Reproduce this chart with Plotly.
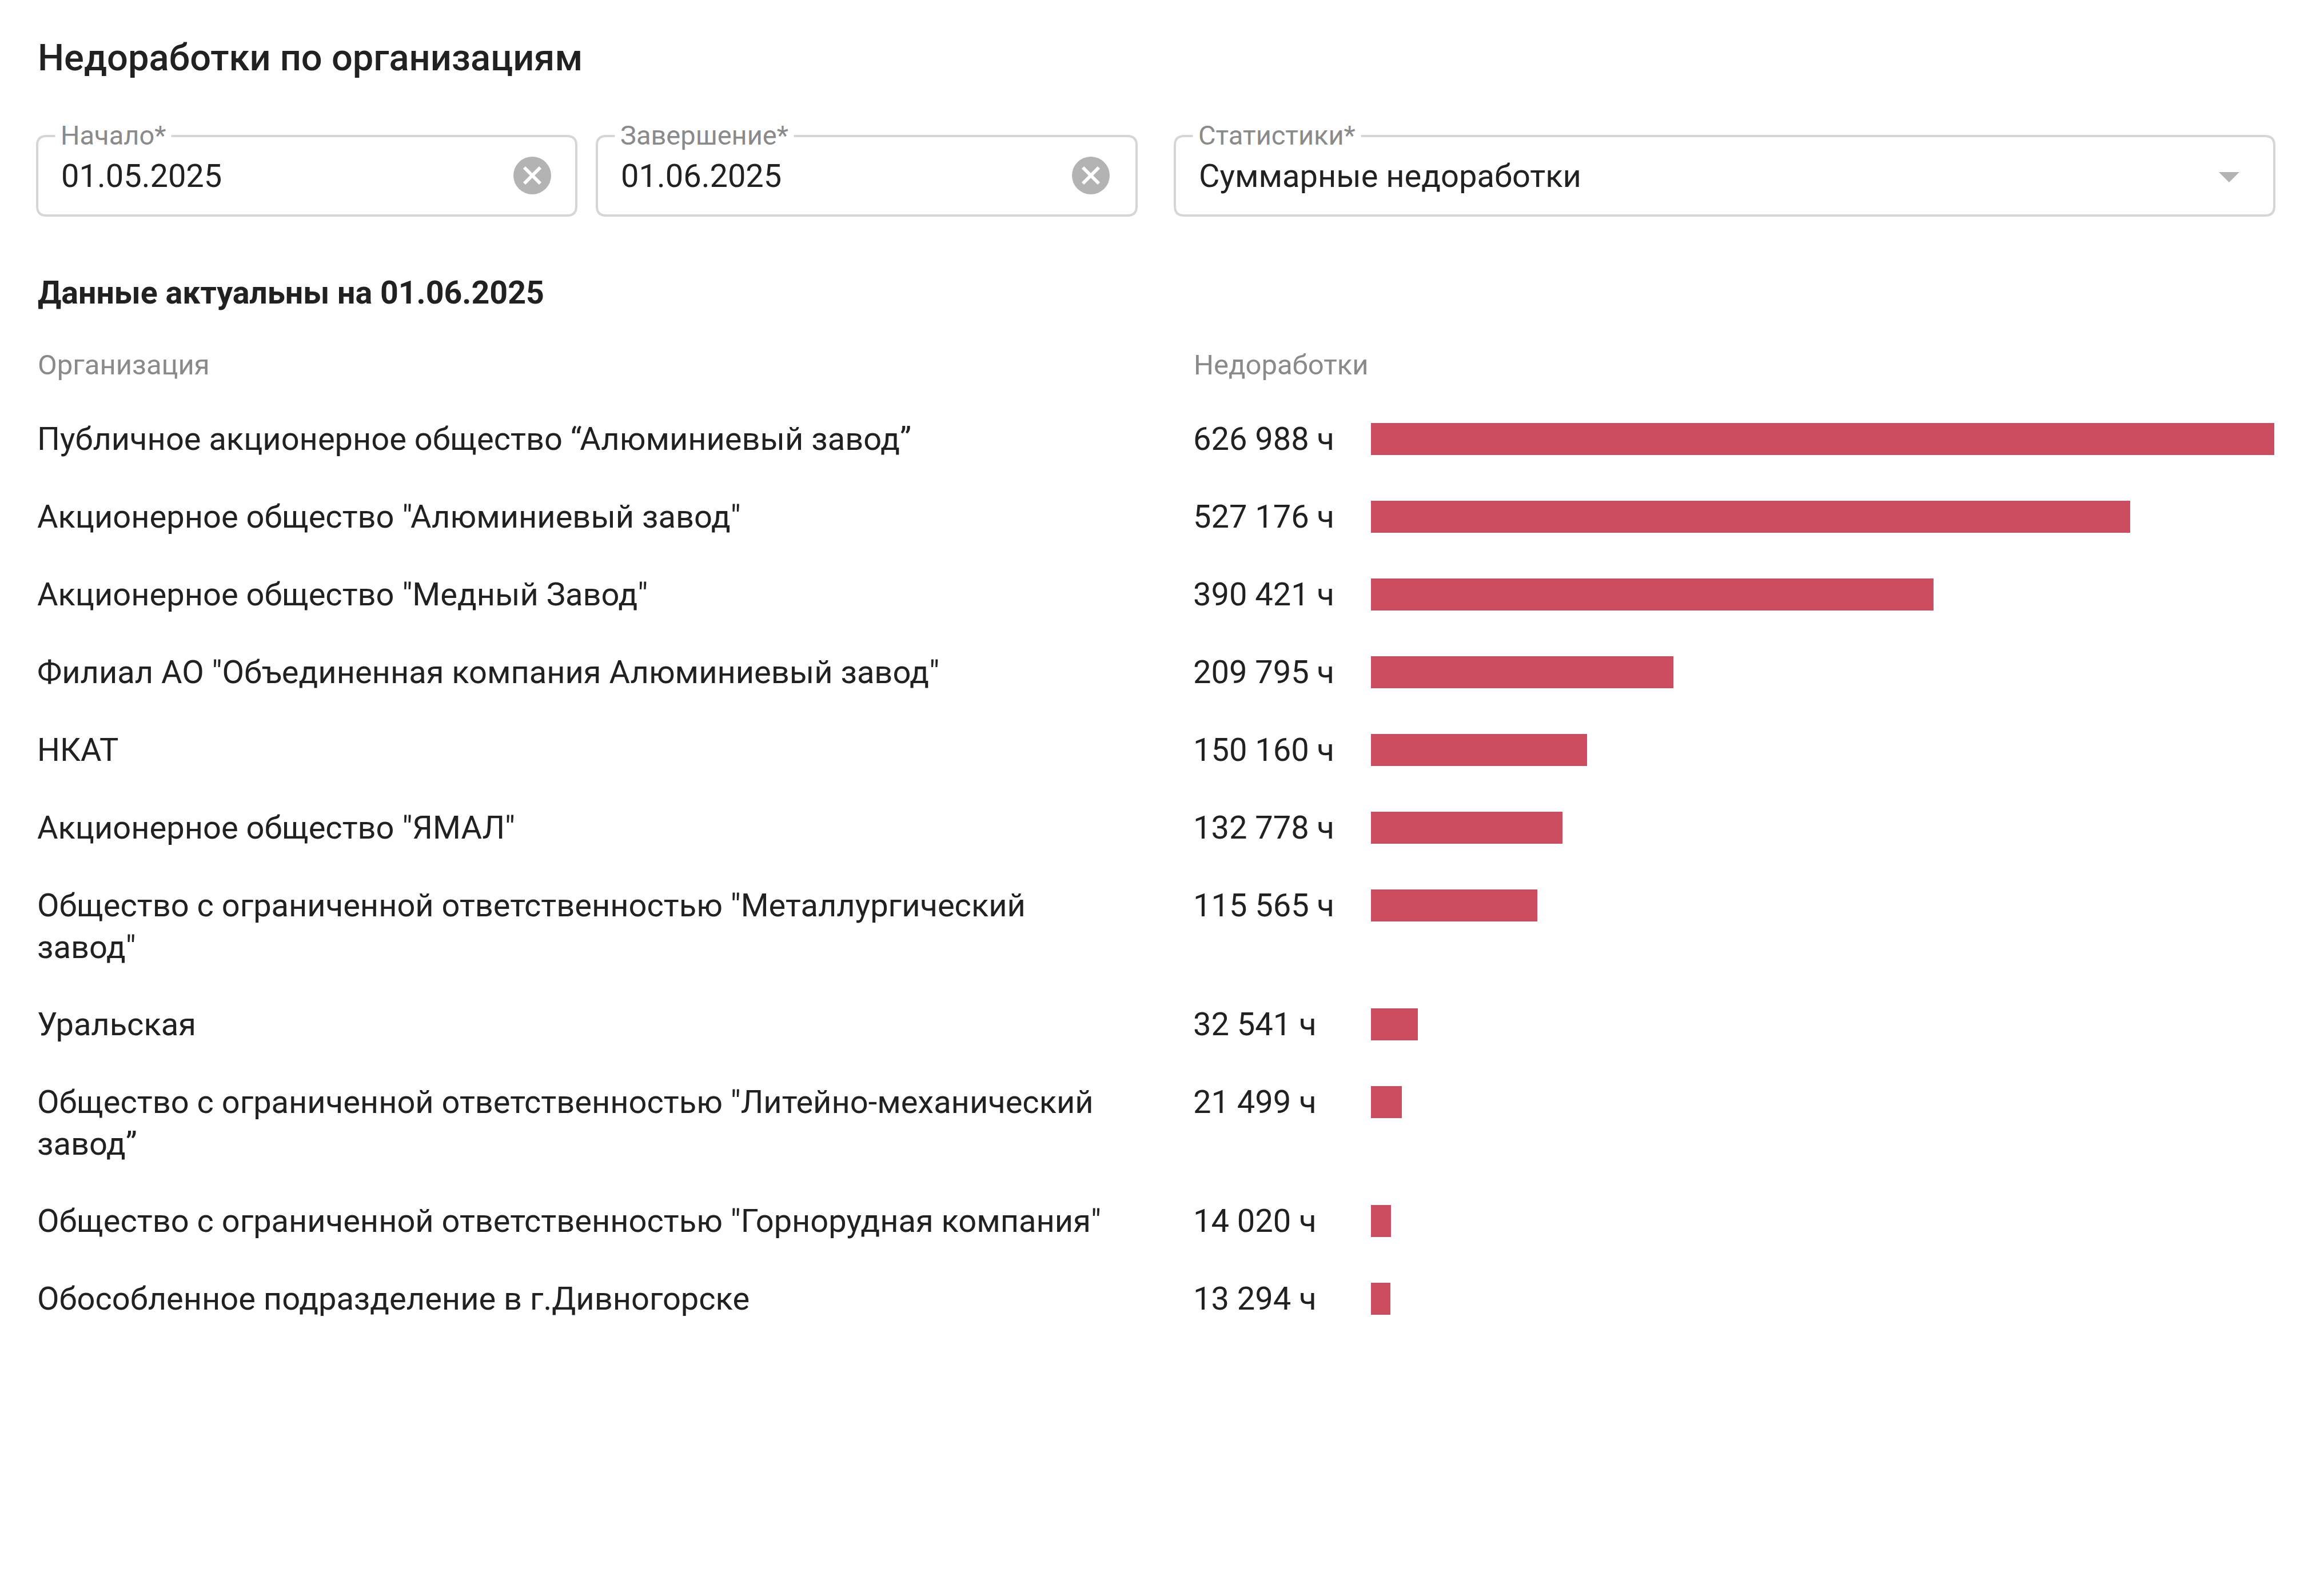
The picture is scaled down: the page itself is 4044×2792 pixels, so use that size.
import plotly.graph_objects as go

# Данные по организациям (часы недоработок)
organizations = [
    'Публичное акционерное общество “Алюминиевый завод”',
    'Акционерное общество "Алюминиевый завод"',
    'Акционерное общество "Медный Завод"',
    'Филиал АО "Объединенная компания Алюминиевый завод"',
    'НКАТ',
    'Акционерное общество "ЯМАЛ"',
    'Общество с ограниченной ответственностью "Металлургический<br>завод"',
    'Уральская',
    'Общество с ограниченной ответственностью "Литейно-механический<br>завод”',
    'Общество с ограниченной ответственностью "Горнорудная компания"',
    'Обособленное подразделение в г.Дивногорске',
]
hours = [626988, 527176, 390421, 209795, 150160, 132778, 115565, 32541, 21499, 14020, 13294]

# Фильтры
filter_labels = ['Начало*', 'Завершение*', 'Статистики*']
filter_values = ['01.05.2025', '01.06.2025', 'Суммарные недоработки']
report_date = '01.06.2025'

W, H = 4044, 2792
FONT = 'Roboto'
BAR_COLOR = '#CC4D5F'
TEXT = '#212121'
GRAY = '#8a8a8a'
BORDER = '#d6d6d6'
ICON = '#b3b3b3'

# Вертикальная раскладка строк: однострочная строка 136 px, каждая доп. строка +72 px
row_centers = []
y = 768
for name in organizations:
    row_centers.append(y)
    y += 136 + 72 * name.count('<br>')

fig = go.Figure()

fig.add_trace(go.Bar(x=hours, y=row_centers, orientation='h', width=56,
                     marker=dict(color=BAR_COLOR, line=dict(width=0)),
                     xaxis='x', yaxis='y', hoverinfo='x'))
# пустой след, чтобы ось x2 (пиксельная, на всю ширину) существовала
fig.add_trace(go.Scatter(x=[], y=[], xaxis='x2', yaxis='y', showlegend=False))

shapes = []
annotations = []


def text(x, y, s, size, color=TEXT, weight=400, yanchor='middle', **kw):
    annotations.append(dict(x=x, y=y, xref='x2', yref='y', text=s, showarrow=False,
                            xanchor='left', yanchor=yanchor, align='left',
                            font=dict(family=FONT, size=size, color=color, weight=weight), **kw))


def rounded_box(x0, y0, x1, y1, r=16):
    path = (f'M {x0 + r},{y0} L {x1 - r},{y0} Q {x1},{y0} {x1},{y0 + r} '
            f'L {x1},{y1 - r} Q {x1},{y1} {x1 - r},{y1} L {x0 + r},{y1} '
            f'Q {x0},{y1} {x0},{y1 - r} L {x0},{y0 + r} Q {x0},{y0} {x0 + r},{y0} Z')
    shapes.append(dict(type='path', path=path, xref='x2', yref='y',
                       line=dict(color=BORDER, width=4), fillcolor='rgba(0,0,0,0)'))


def clear_icon(cx, cy):
    shapes.append(dict(type='circle', xref='x2', yref='y', x0=cx - 33, x1=cx + 33,
                       y0=cy - 33, y1=cy + 33, fillcolor=ICON, line=dict(width=0)))
    for d in (1, -1):
        shapes.append(dict(type='line', xref='x2', yref='y', x0=cx - 14, x1=cx + 14,
                           y0=cy - 14 * d, y1=cy + 14 * d, line=dict(color='white', width=6)))


# Заголовок
text(64, 101, 'Недоработки по организациям', 65, weight=500)

# Поля фильтров
boxes = [(65, 1008), (1044, 1988), (2055, 3978)]
for (bx0, bx1), lab, val in zip(boxes, filter_labels, filter_values):
    rounded_box(bx0, 238, bx1, 377)
    text(bx0 + 31, 236, lab, 47, color=GRAY, bgcolor='white', borderpad=9)
    text(bx0 + 40, 308, val, 56)
clear_icon(931, 307)
clear_icon(1908, 307)
shapes.append(dict(type='path', xref='x2', yref='y', path='M 3881,301 L 3917,301 L 3899,319 Z',
                   fillcolor=ICON, line=dict(width=0)))

# Подзаголовок и шапка таблицы
text(64, 512, f'Данные актуальны на {report_date}', 55.5, weight=700)
text(64, 638, 'Организация', 49, color=GRAY)
text(2086, 638, 'Недоработки', 49, color=GRAY)

# Строки
for name, val, yc in zip(organizations, hours, row_centers):
    text(64, yc - 34, name, 56, yanchor='top', borderpad=0)
    text(2085, yc, f'{val:,}'.replace(',', ' ') + ' ч', 56)

fig.update_layout(
    width=W, height=H,
    margin=dict(l=0, r=0, t=0, b=0),
    paper_bgcolor='white', plot_bgcolor='rgba(0,0,0,0)',
    showlegend=False,
    bargap=0,
    xaxis=dict(domain=[2398 / W, 3978 / W], range=[0, max(hours)], visible=False,
               fixedrange=True, anchor='y'),
    xaxis2=dict(domain=[0, 1], range=[0, W], visible=False, fixedrange=True, anchor='y'),
    yaxis=dict(domain=[0, 1], range=[H, 0], visible=False, fixedrange=True, anchor='x'),
    shapes=shapes,
    annotations=annotations,
)

fig.write_html('out.html', config={'displayModeBar': False},
               post_script="document.body.style.margin='0';")
